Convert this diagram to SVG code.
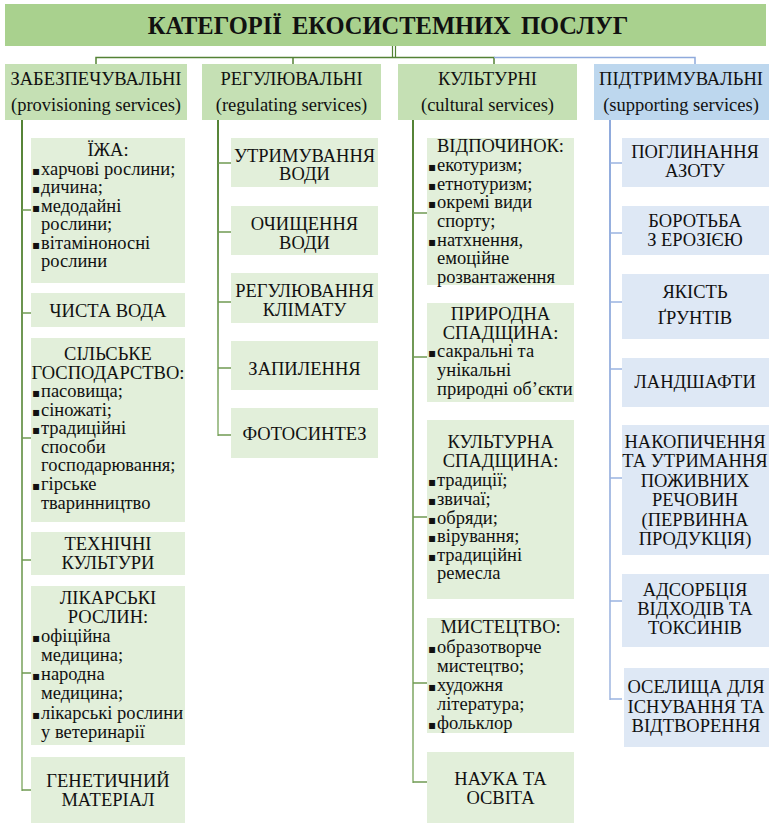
<svg xmlns="http://www.w3.org/2000/svg" width="769" height="825" viewBox="0 0 769 825">
<defs>
<style>
.t,.h,.c,.l{font-family:"Liberation Serif","Times New Roman",serif;fill:#111;}
.t{font-size:24.5px;font-weight:bold;text-anchor:middle;word-spacing:4px;}
.h{font-size:18.5px;text-anchor:middle;}
.c{font-size:18.5px;text-anchor:middle;}
.l{font-size:18.5px;}
.b{font-family:"DejaVu Sans",sans-serif;font-size:12px;}
.gt{fill:#a9d18e;}
.gh{fill:#c5e0b4;}
.bh{fill:#bdd7ee;}
.gc{fill:#e2efda;}
.bc{fill:#dee8f5;}
.lg{stroke:#6f9a52;stroke-width:1.5;fill:none;}
.lb{stroke:#9ab3e0;stroke-width:1.5;fill:none;}
</style>
<linearGradient id="gg" x1="0" y1="0" x2="0" y2="1">
<stop offset="0" stop-color="#548235"/>
<stop offset="1" stop-color="#a9c596"/>
</linearGradient>
<linearGradient id="gb" x1="0" y1="0" x2="0" y2="1">
<stop offset="0" stop-color="#8faadc"/>
<stop offset="1" stop-color="#b8c9e8"/>
</linearGradient>
</defs>
<rect width="769" height="825" fill="#ffffff"/>

<g id="connectors">
<line x1="392.5" y1="46" x2="392.5" y2="57" stroke="#548235" stroke-width="1.2"/>
<line x1="395.5" y1="46" x2="395.5" y2="57" stroke="#548235" stroke-width="1.2"/>
<polyline points="96,64 96,57.5 494,57.5 494,64" stroke="#548235" stroke-width="1.5" fill="none"/>
<line x1="293" y1="57.5" x2="293" y2="64" stroke="#548235" stroke-width="1.5"/>
<polyline points="494,57.5 695,57.5 695,64" stroke="#8faadc" stroke-width="1.5" fill="none"/>
<rect x="21" y="120" width="2" height="671" fill="url(#gg)"/>
<rect x="217" y="120" width="2" height="316" fill="url(#gg)"/>
<rect x="412" y="120" width="2" height="663" fill="url(#gg)"/>
<rect x="609" y="120" width="2" height="580" fill="url(#gb)"/>
<g class="lg">
<line x1="22" y1="210" x2="31" y2="210"/>
<line x1="22" y1="313" x2="31" y2="313"/>
<line x1="22" y1="438" x2="31" y2="438"/>
<line x1="22" y1="560" x2="31" y2="560"/>
<line x1="22" y1="673" x2="31" y2="673"/>
<line x1="22" y1="790" x2="31" y2="790"/>
<line x1="218" y1="163" x2="231" y2="163"/>
<line x1="218" y1="232" x2="231" y2="232"/>
<line x1="218" y1="302" x2="231" y2="302"/>
<line x1="218" y1="368" x2="231" y2="368"/>
<line x1="218" y1="435" x2="231" y2="435"/>
<line x1="413" y1="213" x2="427" y2="213"/>
<line x1="413" y1="357" x2="427" y2="357"/>
<line x1="413" y1="517" x2="427" y2="517"/>
<line x1="413" y1="683" x2="427" y2="683"/>
<line x1="413" y1="782" x2="427" y2="782"/>
</g>
<g class="lb">
<line x1="610" y1="163" x2="622" y2="163"/>
<line x1="610" y1="233" x2="622" y2="233"/>
<line x1="610" y1="302" x2="622" y2="302"/>
<line x1="610" y1="369" x2="622" y2="369"/>
<line x1="610" y1="478" x2="622" y2="478"/>
<line x1="610" y1="601" x2="622" y2="601"/>
<line x1="610" y1="699" x2="622" y2="699"/>
</g>
</g>

<g font-family="Liberation Serif, Times New Roman, serif">
<g id="title">
<rect class="gt" x="5" y="4" width="761" height="42"/>
<text class="t" x="388" y="34">КАТЕГОРІЇ ЕКОСИСТЕМНИХ ПОСЛУГ</text>
</g>

<g id="h-provisioning">
<rect class="gh" x="5" y="64" width="182" height="56"/>
<text class="h" x="96" y="85">ЗАБЕЗПЕЧУВАЛЬНІ</text>
<text class="h" x="96" y="111">(provisioning services)</text>
</g>
<g id="h-regulating">
<rect class="gh" x="202" y="64" width="179" height="56"/>
<text class="h" x="291.5" y="85">РЕГУЛЮВАЛЬНІ</text>
<text class="h" x="291.5" y="111">(regulating services)</text>
</g>
<g id="h-cultural">
<rect class="gh" x="398" y="64" width="179" height="56"/>
<text class="h" x="487.5" y="85">КУЛЬТУРНІ</text>
<text class="h" x="487.5" y="111">(cultural services)</text>
</g>
<g id="h-supporting">
<rect class="bh" x="594" y="64" width="175" height="56"/>
<text class="h" x="681" y="85">ПІДТРИМУВАЛЬНІ</text>
<text class="h" x="681" y="111">(supporting services)</text>
</g>

<g id="food">
<rect class="gc" x="31" y="138" width="154" height="145"/>
<text class="c" x="108" y="156">ЇЖА:</text>
<text class="l" x="32" y="175"><tspan class="b">▪</tspan><tspan x="41">харчові рослини;</tspan></text>
<text class="l" x="32" y="193"><tspan class="b">▪</tspan><tspan x="41">дичина;</tspan></text>
<text class="l" x="32" y="212"><tspan class="b">▪</tspan><tspan x="41">медодайні</tspan></text>
<text class="l" x="41" y="230">рослини;</text>
<text class="l" x="32" y="249"><tspan class="b">▪</tspan><tspan x="41">вітаміноносні</tspan></text>
<text class="l" x="41" y="267">рослини</text>
</g>
<g id="clean-water">
<rect class="gc" x="31" y="293" width="154" height="34"/>
<text class="c" x="108" y="317">ЧИСТА ВОДА</text>
</g>
<g id="agriculture">
<rect class="gc" x="31" y="338" width="154" height="184"/>
<text class="c" x="108" y="360">СІЛЬСЬКЕ</text>
<text class="c" x="108" y="378.5">ГОСПОДАРСТВО:</text>
<text class="l" x="32" y="397"><tspan class="b">▪</tspan><tspan x="41">пасовища;</tspan></text>
<text class="l" x="32" y="415.5"><tspan class="b">▪</tspan><tspan x="41">сіножаті;</tspan></text>
<text class="l" x="32" y="434"><tspan class="b">▪</tspan><tspan x="41">традиційні</tspan></text>
<text class="l" x="41" y="452.5">способи</text>
<text class="l" x="41" y="471">господарювання;</text>
<text class="l" x="32" y="490"><tspan class="b">▪</tspan><tspan x="41">гірське</tspan></text>
<text class="l" x="41" y="509">тваринництво</text>
</g>
<g id="technical-crops">
<rect class="gc" x="31" y="532" width="154" height="43"/>
<text class="c" x="108" y="550">ТЕХНІЧНІ</text>
<text class="c" x="108" y="569">КУЛЬТУРИ</text>
</g>
<g id="medicinal">
<rect class="gc" x="31" y="586" width="154" height="159"/>
<text class="c" x="108" y="604">ЛІКАРСЬКІ</text>
<text class="c" x="108" y="623">РОСЛИН:</text>
<text class="l" x="32" y="642"><tspan class="b">▪</tspan><tspan x="41">офіційна</tspan></text>
<text class="l" x="41" y="661">медицина;</text>
<text class="l" x="32" y="680"><tspan class="b">▪</tspan><tspan x="41">народна</tspan></text>
<text class="l" x="41" y="699">медицина;</text>
<text class="l" x="32" y="719"><tspan class="b">▪</tspan><tspan x="41">лікарські рослини</tspan></text>
<text class="l" x="41" y="738">у ветеринарії</text>
</g>
<g id="genetic">
<rect class="gc" x="31" y="757" width="154" height="66"/>
<text class="c" x="108" y="787">ГЕНЕТИЧНИЙ</text>
<text class="c" x="108" y="806">МАТЕРІАЛ</text>
</g>

<g id="water-retention">
<rect class="gc" x="231" y="138" width="147" height="49"/>
<text class="c" x="304.5" y="161.5">УТРИМУВАННЯ</text>
<text class="c" x="304.5" y="180">ВОДИ</text>
</g>
<g id="water-purification">
<rect class="gc" x="231" y="206" width="147" height="49"/>
<text class="c" x="304.5" y="230">ОЧИЩЕННЯ</text>
<text class="c" x="304.5" y="248.5">ВОДИ</text>
</g>
<g id="climate">
<rect class="gc" x="231" y="273" width="147" height="50"/>
<text class="c" x="304.5" y="297">РЕГУЛЮВАННЯ</text>
<text class="c" x="304.5" y="315.5">КЛІМАТУ</text>
</g>
<g id="pollination">
<rect class="gc" x="231" y="341" width="147" height="49"/>
<text class="c" x="304.5" y="375">ЗАПИЛЕННЯ</text>
</g>
<g id="photosynthesis">
<rect class="gc" x="231" y="408" width="147" height="50"/>
<text class="c" x="304.5" y="440">ФОТОСИНТЕЗ</text>
</g>

<g id="recreation">
<rect class="gc" x="427" y="138" width="147" height="147"/>
<text class="c" x="500.5" y="152">ВІДПОЧИНОК:</text>
<text class="l" x="428" y="171"><tspan class="b">▪</tspan><tspan x="437">екотуризм;</tspan></text>
<text class="l" x="428" y="189.5"><tspan class="b">▪</tspan><tspan x="437">етнотуризм;</tspan></text>
<text class="l" x="428" y="208"><tspan class="b">▪</tspan><tspan x="437">окремі види</tspan></text>
<text class="l" x="437" y="227">спорту;</text>
<text class="l" x="428" y="245.5"><tspan class="b">▪</tspan><tspan x="437">натхнення,</tspan></text>
<text class="l" x="437" y="264">емоційне</text>
<text class="l" x="437" y="283">розвантаження</text>
</g>
<g id="natural-heritage">
<rect class="gc" x="427" y="303" width="147" height="99"/>
<text class="c" x="500.5" y="320">ПРИРОДНА</text>
<text class="c" x="500.5" y="338.5">СПАДЩИНА:</text>
<text class="l" x="428" y="357"><tspan class="b">▪</tspan><tspan x="437">сакральні та</tspan></text>
<text class="l" x="437" y="376">унікальні</text>
<text class="l" x="437" y="395">природні об’єкти</text>
</g>
<g id="cultural-heritage">
<rect class="gc" x="427" y="420" width="147" height="179"/>
<text class="c" x="500.5" y="448">КУЛЬТУРНА</text>
<text class="c" x="500.5" y="467">СПАДЩИНА:</text>
<text class="l" x="428" y="486"><tspan class="b">▪</tspan><tspan x="437">традиції;</tspan></text>
<text class="l" x="428" y="505"><tspan class="b">▪</tspan><tspan x="437">звичаї;</tspan></text>
<text class="l" x="428" y="523.5"><tspan class="b">▪</tspan><tspan x="437">обряди;</tspan></text>
<text class="l" x="428" y="542"><tspan class="b">▪</tspan><tspan x="437">вірування;</tspan></text>
<text class="l" x="428" y="560.5"><tspan class="b">▪</tspan><tspan x="437">традиційні</tspan></text>
<text class="l" x="437" y="579">ремесла</text>
</g>
<g id="art">
<rect class="gc" x="427" y="618" width="147" height="115"/>
<text class="c" x="500.5" y="633">МИСТЕЦТВО:</text>
<text class="l" x="428" y="653"><tspan class="b">▪</tspan><tspan x="437">образотворче</tspan></text>
<text class="l" x="437" y="672">мистецтво;</text>
<text class="l" x="428" y="691"><tspan class="b">▪</tspan><tspan x="437">художня</tspan></text>
<text class="l" x="437" y="710">література;</text>
<text class="l" x="428" y="729"><tspan class="b">▪</tspan><tspan x="437">фольклор</tspan></text>
</g>
<g id="science">
<rect class="gc" x="427" y="752" width="147" height="71"/>
<text class="c" x="500.5" y="785">НАУКА ТА</text>
<text class="c" x="500.5" y="803.5">ОСВІТА</text>
</g>

<g id="nitrogen">
<rect class="bc" x="622" y="138" width="147" height="49"/>
<text class="c" x="695" y="158">ПОГЛИНАННЯ</text>
<text class="c" x="695" y="177">АЗОТУ</text>
</g>
<g id="erosion">
<rect class="bc" x="622" y="206" width="147" height="49"/>
<text class="c" x="695" y="227">БОРОТЬБА</text>
<text class="c" x="695" y="246">З ЕРОЗІЄЮ</text>
</g>
<g id="soil">
<rect class="bc" x="622" y="274" width="147" height="65"/>
<text class="c" x="695" y="298">ЯКІСТЬ</text>
<text class="c" x="695" y="324">ҐРУНТІВ</text>
</g>
<g id="landscapes">
<rect class="bc" x="622" y="358" width="147" height="49"/>
<text class="c" x="695" y="388">ЛАНДШАФТИ</text>
</g>
<g id="nutrients">
<rect class="bc" x="622" y="425" width="147" height="130"/>
<text class="c" x="695" y="447.5">НАКОПИЧЕННЯ</text>
<text class="c" x="695" y="467">ТА УТРИМАННЯ</text>
<text class="c" x="695" y="486.5">ПОЖИВНИХ</text>
<text class="c" x="695" y="506">РЕЧОВИН</text>
<text class="c" x="695" y="525.5">(ПЕРВИННА</text>
<text class="c" x="695" y="545">ПРОДУКЦІЯ)</text>
</g>
<g id="adsorption">
<rect class="bc" x="622" y="574" width="147" height="73"/>
<text class="c" x="695" y="596">АДСОРБЦІЯ</text>
<text class="c" x="695" y="615">ВІДХОДІВ ТА</text>
<text class="c" x="695" y="634">ТОКСИНІВ</text>
</g>
<g id="habitats">
<rect class="bc" x="624" y="668" width="145" height="79"/>
<text class="c" x="696" y="693">ОСЕЛИЩА ДЛЯ</text>
<text class="c" x="696" y="712.5">ІСНУВАННЯ ТА</text>
<text class="c" x="696" y="732">ВІДТВОРЕННЯ</text>
</g>
</g>
</svg>
